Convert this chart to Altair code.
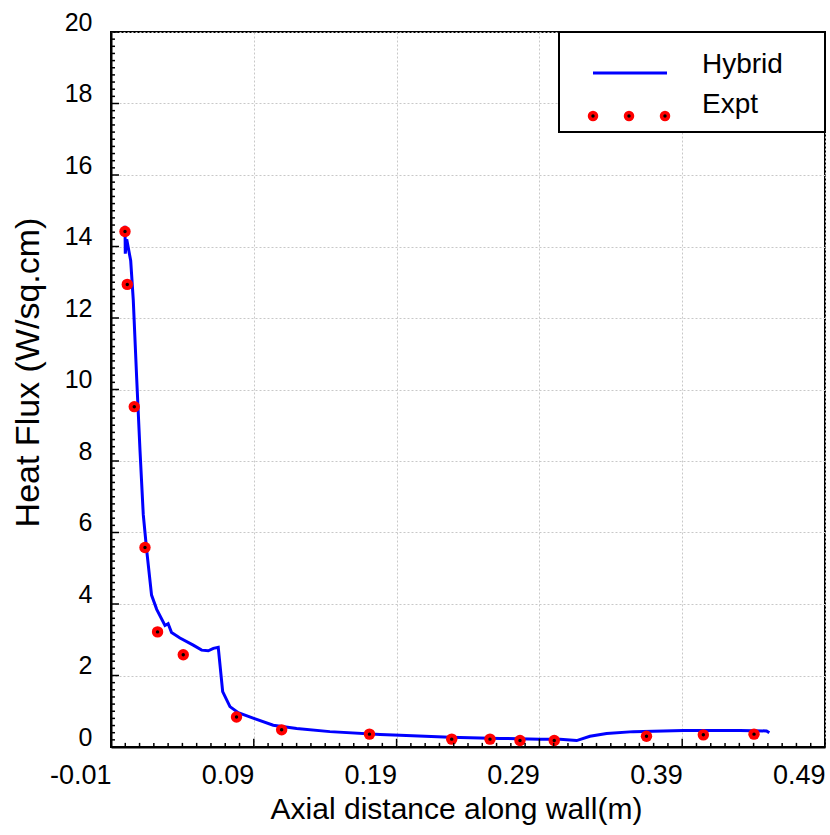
import altair as alt
import pandas as pd

# Hybrid (simulation) curve
line_x = [-0.0002, 0.0000, 0.0010, 0.0038, 0.0056, 0.0080, 0.0103, 0.0126, 0.0150,
          0.0184, 0.0220, 0.0278, 0.0300, 0.0324, 0.0383, 0.0476, 0.0535, 0.0581,
          0.0617, 0.0651, 0.0682, 0.0733, 0.0791, 0.0900, 0.1036, 0.1200, 0.1433,
          0.1784, 0.1924, 0.2274, 0.2624, 0.2904, 0.3044, 0.3161, 0.3254, 0.3371,
          0.3558, 0.3908, 0.4305, 0.4491, 0.4510]
line_y = [14.58, 13.80, 14.20, 13.60, 12.50, 10.30, 8.30, 6.50, 5.50,
          4.25, 3.85, 3.40, 3.45, 3.20, 3.05, 2.85, 2.71, 2.69,
          2.76, 2.79, 1.55, 1.13, 0.96, 0.80, 0.61, 0.52, 0.43,
          0.35, 0.33, 0.27, 0.24, 0.22, 0.22, 0.18, 0.30, 0.38,
          0.43, 0.46, 0.46, 0.45, 0.40]

# Experimental points
expt_x = [-0.0002, 0.0014, 0.0063, 0.0138, 0.0226, 0.0406, 0.0779, 0.1095, 0.1710,
          0.2286, 0.2554, 0.2764, 0.3004, 0.3650, 0.4048, 0.4403]
expt_y = [14.42, 12.94, 9.52, 5.58, 3.22, 2.58, 0.84, 0.48, 0.36,
          0.22, 0.22, 0.18, 0.18, 0.30, 0.34, 0.36]

x_ticks = [-0.01, 0.09, 0.19, 0.29, 0.39, 0.49]
y_ticks = [0, 2, 4, 6, 8, 10, 12, 14, 16, 18, 20]
x_minor = [round(-0.01 + 0.01 * i, 4) for i in range(51)]
y_minor = [round(0.2 * i, 4) for i in range(101)]

legend_labels = ["Hybrid", "Expt"]

FONT = "Liberation Sans, Arial, sans-serif"
W, H = 714, 715
XD = [-0.01, 0.49]
YD = [0, 20]

line_df = pd.DataFrame({"x": line_x, "y": line_y, "i": range(len(line_x))})
pts_df = pd.DataFrame({"x": expt_x, "y": expt_y})

xs = alt.Scale(domain=XD, nice=False, zero=False)
ys = alt.Scale(domain=YD, nice=False, zero=False)

xaxis = alt.Axis(values=x_ticks, grid=True, gridColor="#c8c8c8",
                 labelExpr="datum.value < 0 ? '-' + format(-datum.value, '.2f') : format(datum.value, '.2f')",
                 gridDash=[2, 2], gridWidth=1, ticks=False, tickSize=0,
                 domainColor="black", domainWidth=2,
                 labelFont=FONT, labelFontSize=27, labelColor="black",
                 labelAlign="right", labelBaseline="alphabetic", labelPadding=36,
                 labelFlush=False,
                 title="Axial distance along wall(m)", titleFont=FONT,
                 titleFontSize=30, titleFontWeight="normal", titleColor="black",
                 titleX=345, titleY=71, titleAlign="center", titleBaseline="alphabetic")
yaxis = alt.Axis(values=y_ticks, format="d", grid=True, gridColor="#c8c8c8",
                 gridDash=[2, 2], gridWidth=1, ticks=False, tickSize=0,
                 domainColor="black", domainWidth=2,
                 labelFont=FONT, labelFontSize=25, labelColor="black",
                 labelPadding=19, labelOffset=-10, labelFlush=False,
                 title="Heat Flux (W/sq.cm)", titleFont=FONT,
                 titleFontSize=34, titleFontWeight="normal", titleColor="black",
                 titleX=-83, titleY=340, titleAngle=270, titleAlign="center",
                 titleBaseline="middle")

base_line = alt.Chart(line_df).mark_line(color="#0000ff", strokeWidth=3).encode(
    x=alt.X("x:Q", scale=xs, axis=xaxis),
    y=alt.Y("y:Q", scale=ys, axis=yaxis),
    order="i:Q",
)

pts_red = alt.Chart(pts_df).mark_point(filled=True, shape="circle", size=130,
                                       color="#ff0000", opacity=1).encode(
    x=alt.X("x:Q", scale=xs), y=alt.Y("y:Q", scale=ys))
pts_black = alt.Chart(pts_df).mark_point(filled=True, shape="circle", size=12,
                                         color="black", opacity=1).encode(
    x=alt.X("x:Q", scale=xs), y=alt.Y("y:Q", scale=ys))

# inward minor / major ticks
xt_df = pd.DataFrame({"x": x_minor,
                      "len": [0.23 if (i % 10 == 0) else 0.115 for i in range(len(x_minor))]})
yt_df = pd.DataFrame({"y": y_minor,
                      "len": [0.0056 if (i % 10 == 0) else 0.0028 for i in range(len(y_minor))]})
xt_df["y0"] = 0.0
xt_df["y1"] = xt_df["len"]
yt_df["x0"] = -0.01
yt_df["x1"] = -0.01 + yt_df["len"]

x_tick_marks = alt.Chart(xt_df).mark_rule(color="black", strokeWidth=1.5).encode(
    x=alt.X("x:Q", scale=xs), y=alt.Y("y0:Q", scale=ys), y2="y1:Q")
y_tick_marks = alt.Chart(yt_df).mark_rule(color="black", strokeWidth=1.5).encode(
    y=alt.Y("y:Q", scale=ys), x=alt.X("x0:Q", scale=xs), x2="x1:Q")

# legend box (decoration, pixel positioned)
leg_box = alt.Chart(pd.DataFrame({"a": [0]})).mark_rect(
    fill="white", stroke="black", strokeWidth=2).encode(
    x=alt.value(448), x2=alt.value(W), y=alt.value(0), y2=alt.value(100))
leg_line = alt.Chart(pd.DataFrame({"a": [0]})).mark_rule(
    color="#0000ff", strokeWidth=3).encode(
    x=alt.value(482), x2=alt.value(556), y=alt.value(41))
leg_text = alt.Chart(pd.DataFrame({"t": legend_labels, "yy": [33, 73]})).mark_text(
    font=FONT, fontSize=28, align="left", baseline="middle", color="black").encode(
    x=alt.value(591), y=alt.Y("yy:Q", scale=None), text="t:N")
leg_dots_df = pd.DataFrame({"xx": [482, 518, 554], "yy": [84, 84, 84]})
leg_dots_r = alt.Chart(leg_dots_df).mark_point(filled=True, shape="circle", size=110,
                                               color="#ff0000", opacity=1).encode(
    x=alt.X("xx:Q", scale=None), y=alt.Y("yy:Q", scale=None))
leg_dots_b = alt.Chart(leg_dots_df).mark_point(filled=True, shape="circle", size=12,
                                               color="black", opacity=1).encode(
    x=alt.X("xx:Q", scale=None), y=alt.Y("yy:Q", scale=None))

chart = alt.layer(
    base_line, pts_red, pts_black, x_tick_marks, y_tick_marks,
    leg_box, leg_line, leg_text, leg_dots_r, leg_dots_b
).properties(
    width=W, height=H,
    autosize=alt.AutoSizeParams(type="none"),
    padding={"left": 111, "top": 32, "right": 5, "bottom": 88},
    background="white",
).configure_view(stroke="black", strokeWidth=2)

chart.save("out.html", embed_options={"renderer": "svg", "actions": False})
